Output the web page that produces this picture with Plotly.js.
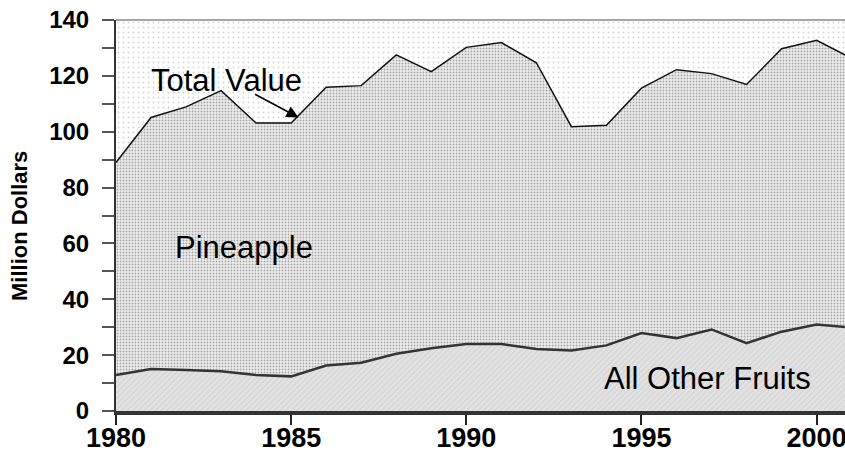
<!DOCTYPE html>
<html>
<head>
<meta charset="utf-8">
<script src="https://cdn.plot.ly/plotly-3.0.1.min.js"></script>
<style>
  html, body { margin: 0; padding: 0; background: #ffffff; overflow: hidden; }
  #chart { width: 845px; height: 456px; }
</style>
</head>
<body>
<div id="chart"></div>
<script>
// ---- data ----
const years = [1980, 1981, 1982, 1983, 1984, 1985, 1986, 1987, 1988, 1989, 1990,
               1991, 1992, 1993, 1994, 1995, 1996, 1997, 1998, 1999, 2000, 2001];
const totalValue = [89.0, 105.1, 108.9, 114.7, 103.1, 103.1, 115.9, 116.5, 127.5, 121.5, 130.2,
                    131.9, 124.7, 101.8, 102.3, 115.6, 122.2, 120.8, 116.9, 129.7, 132.7, 126.3];
const otherFruits = [12.9, 15.0, 14.7, 14.2, 12.9, 12.4, 16.3, 17.3, 20.5, 22.5, 24.0,
                     24.0, 22.2, 21.7, 23.5, 27.9, 26.1, 29.2, 24.3, 28.4, 31.0, 29.9];
const yMax = 140;
const yTickStep = 20;
const xTickStep = 5;
const labelTotal = "Total Value";
const labelPine = "Pineapple";
const labelOther = "All Other Fruits";
const yTitle = "Million Dollars";

const FONT = "Liberation Sans, Arial, sans-serif";
const X_RANGE = [1980, 2000.81];
const W = 845, H = 456;
const M = { l: 116, r: 0, t: 20, b: 45, pad: 0 };
const plotW = W - M.l - M.r;
const plotH = H - M.t - M.b;
const pxPerUnitY = plotH / yMax;

const tickYears = years.filter(yr => yr <= X_RANGE[1]);

const traces = [
  // dotted background of the plot area
  {
    x: years, y: years.map(() => yMax),
    type: "scatter", mode: "none", fill: "tozeroy",
    fillcolor: "#ffffff",
    fillpattern: { shape: ".", fgcolor: "#d4d4d4", bgcolor: "#ffffff", size: 5, solidity: 0.1 },
    hoverinfo: "skip", showlegend: false
  },
  // pineapple (total value area)
  {
    x: years, y: totalValue,
    type: "scatter", mode: "lines", fill: "tozeroy",
    line: { color: "#111111", width: 1.5 },
    fillcolor: "#d4d4d4",
    fillpattern: { shape: ".", fgcolor: "#a6a6a6", bgcolor: "#eeeeee", size: 3, solidity: 0.3 },
    showlegend: false
  },
  // all other fruits
  {
    x: years, y: otherFruits,
    type: "scatter", mode: "lines", fill: "tozeroy",
    line: { color: "#333333", width: 2.5 },
    fillcolor: "#dedede",
    fillpattern: { shape: "/", fgcolor: "#d0d0d0", bgcolor: "#e2e2e2", size: 4, solidity: 0.25 },
    showlegend: false
  },
  // yearly tick marks just below the x axis line (axis decoration, drawn outside the plot)
  {
    x: tickYears, y: tickYears.map(() => -7.5 / pxPerUnitY),
    type: "scatter", mode: "markers", cliponaxis: false,
    marker: { symbol: "line-ns-open", size: 10, color: "#222222", line: { color: "#222222", width: 2 } },
    hoverinfo: "skip", showlegend: false
  }
];

const layout = {
  width: W, height: H,
  margin: M,
  paper_bgcolor: "#ffffff",
  plot_bgcolor: "#ffffff",
  font: { family: FONT, color: "#000000" },
  showlegend: false,
  xaxis: {
    range: X_RANGE,
    tickmode: "linear", tick0: years[0], dtick: xTickStep,
    ticks: "outside", ticklen: 10, tickwidth: 2, tickcolor: "#222222",
    tickfont: { family: FONT, size: 27, color: "#000000", weight: "bold" },
    ticklabelstandoff: -10,
    ticklabeloverflow: "allow",
    showgrid: false, zeroline: false,
    showline: true, linecolor: "#333333", linewidth: 4,
    fixedrange: true
  },
  yaxis: {
    range: [0, yMax],
    tickmode: "linear", tick0: 0, dtick: yTickStep,
    ticks: "outside", ticklen: 12, tickwidth: 2, tickcolor: "#555555",
    minor: { dtick: yTickStep / 2, tick0: 0, ticks: "outside", ticklen: 12, tickwidth: 2, tickcolor: "#555555", showgrid: false },
    tickfont: { family: FONT, size: 24, color: "#000000", weight: "bold" },
    ticklabelstandoff: 8,
    showgrid: false, zeroline: false,
    showline: true, linecolor: "#333333", linewidth: 2,
    fixedrange: true
  },
  shapes: [
    { type: "line", xref: "paper", yref: "paper", x0: 0, x1: 1, y0: 1, y1: 1,
      line: { color: "#888888", width: 1.5 } }
  ],
  annotations: [
    { x: (20 - M.l) / plotW, y: 1 - (226 - M.t) / plotH, xref: "paper", yref: "paper",
      text: yTitle, showarrow: false, textangle: -90, xanchor: "center", yanchor: "middle",
      font: { family: FONT, size: 22, color: "#000000", weight: "bold" } },
    { x: 1983.15, y: 118.5, xref: "x", yref: "y", text: labelTotal, showarrow: false,
      font: { family: FONT, size: 31, color: "#000000" }, xanchor: "center", yanchor: "middle" },
    { x: 1985.21, y: 105.1, xref: "x", yref: "y", text: "", showarrow: true,
      ax: -45, ay: -24, arrowhead: 2, arrowsize: 1.6, arrowwidth: 1.5, arrowcolor: "#000000" },
    { x: 1983.65, y: 58.5, xref: "x", yref: "y", text: labelPine, showarrow: false,
      font: { family: FONT, size: 31, color: "#000000" }, xanchor: "center", yanchor: "middle" },
    { x: 1996.88, y: 11.5, xref: "x", yref: "y", text: labelOther, showarrow: false,
      font: { family: FONT, size: 31, color: "#000000" }, xanchor: "center", yanchor: "middle" }
  ]
};

Plotly.newPlot("chart", traces, layout, { staticPlot: true, displayModeBar: false });
</script>
</body>
</html>
